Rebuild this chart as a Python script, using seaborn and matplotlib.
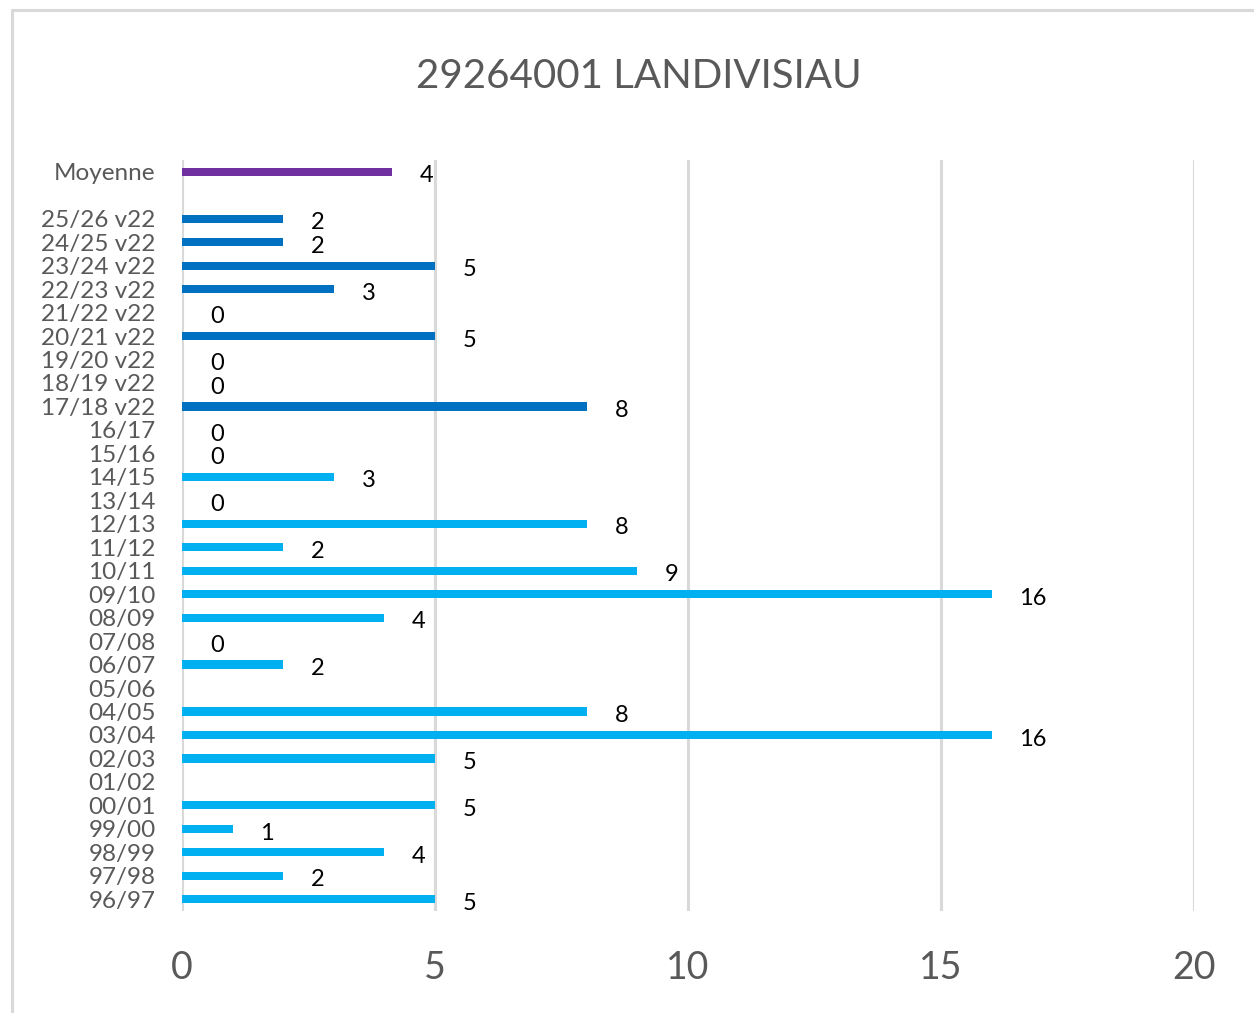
import numpy as np
import pandas as pd
import seaborn as sns
import matplotlib.pyplot as plt
from matplotlib.lines import Line2D

# ---- Data (top to bottom as shown) ----
seasons = [
    "Moyenne", " ",
    "25/26 v22", "24/25 v22", "23/24 v22", "22/23 v22", "21/22 v22",
    "20/21 v22", "19/20 v22", "18/19 v22", "17/18 v22",
    "16/17", "15/16", "14/15", "13/14", "12/13", "11/12", "10/11",
    "09/10", "08/09", "07/08", "06/07", "05/06", "04/05", "03/04",
    "02/03", "01/02", "00/01", "99/00", "98/99", "97/98", "96/97",
]
values = [
    4.15, np.nan,
    2, 2, 5, 3, 0, 5, 0, 0, 8,
    0, 0, 3, 0, 8, 2, 9, 16, 4, 0, 2, np.nan, 8, 16,
    5, np.nan, 5, 1, 4, 2, 5,
]
groups = (["moy", "moy"] + ["v22"] * 9 + ["old"] * 21)
colors = {"moy": "#7030A0", "v22": "#0070C0", "old": "#00B0F0"}
TITLE = "29264001 LANDIVISIAU"

df = pd.DataFrame({"season": seasons, "value": values, "group": groups})

# ---- Plot ----
sns.set_theme(style="white")
plt.rcParams["font.family"] = ["Lato", "DejaVu Sans"]
fig = plt.figure(figsize=(12.54, 10.13), dpi=100)
ax = fig.add_axes([182 / 1254, 1 - 911 / 1013, (1194 - 182) / 1254, (911 - 160) / 1013])

sns.barplot(data=df, y="season", x="value", hue="group", palette=colors,
            order=seasons, dodge=False, width=0.35, legend=False, ax=ax,
            saturation=1, errorbar=None, linewidth=0)

ax.set_xlim(0, 20)
ax.set_ylim(len(seasons) - 0.5, -0.5)
ax.set_xticks([0, 5, 10, 15, 20])
ax.grid(axis="x", color="#D9D9D9", linewidth=2.2)
ax.set_axisbelow(True)
for s in ax.spines.values():
    s.set_visible(False)
ax.set_xlabel("")
ax.set_ylabel("")
ax.tick_params(axis="x", length=0, pad=28, labelsize=27, labelcolor="#595959")
ax.tick_params(axis="y", length=0, pad=19, labelsize=17.5, labelcolor="#595959")

# value labels
for i, v in enumerate(values):
    if np.isnan(v):
        continue
    ax.annotate(f"{v:.0f}", (v, i), xytext=(20, -3), textcoords="offset points",
                ha="left", va="center", fontsize=17, color="black")

fig.text(639 / 1254, 1 - 77 / 1013, TITLE, ha="center", va="center",
         fontsize=29, color="#595959")

# chart frame
fig.add_artist(Line2D([12 / 1254, 12 / 1254], [0, 1 - 10 / 1013],
                      transform=fig.transFigure, color="#D9D9D9", linewidth=2.2))
fig.add_artist(Line2D([12 / 1254, 1], [1 - 10 / 1013, 1 - 10 / 1013],
                      transform=fig.transFigure, color="#D9D9D9", linewidth=2.2))

fig.savefig("out.png", dpi=100)
plt.close(fig)
